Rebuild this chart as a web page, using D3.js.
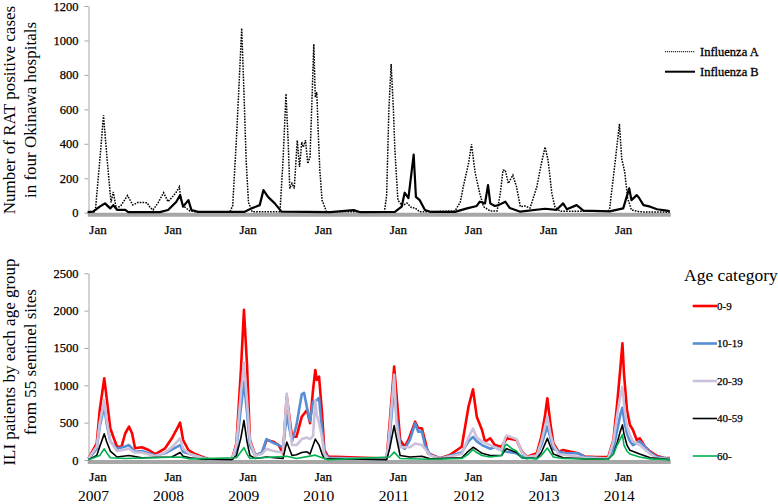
<!DOCTYPE html>
<html>
<head>
<meta charset="utf-8">
<script src="https://cdn.jsdelivr.net/npm/d3@7"></script>
<style>
  body { margin: 0; background: #fff; }
  svg { display: block; }
  svg text { font-family: "Liberation Serif", serif; fill: #000; }
</style>
</head>
<body>
<svg id="chart" width="778" height="504"></svg>
<script>
// [decimal year, cases]
var fluA = [[2006.87,3],[2006.97,5],[2007.03,300],[2007.08,565],[2007.13,300],[2007.18,60],[2007.21,120],[2007.25,25],[2007.31,40],[2007.40,100],[2007.47,45],[2007.54,60],[2007.66,58],[2007.70,30],[2007.74,16],[2007.81,60],[2007.88,116],[2007.94,64],[2008.01,98],[2008.05,120],[2008.09,150],[2008.11,80],[2008.14,40],[2008.23,10],[2008.37,3],[2008.76,3],[2008.80,40],[2008.85,430],[2008.88,700],[2008.92,1071],[2008.95,700],[2008.98,300],[2009.01,60],[2009.06,5],[2009.43,5],[2009.47,300],[2009.51,690],[2009.54,400],[2009.56,141],[2009.59,170],[2009.62,141],[2009.66,420],[2009.69,266],[2009.72,410],[2009.74,381],[2009.77,420],[2009.80,285],[2009.83,324],[2009.86,709],[2009.88,979],[2009.90,670],[2009.92,699],[2009.94,459],[2009.96,250],[2009.99,73],[2010.05,5],[2010.82,5],[2010.85,100],[2010.88,600],[2010.91,863],[2010.94,600],[2010.96,362],[2011.00,73],[2011.06,40],[2011.12,56],[2011.18,30],[2011.23,27],[2011.29,5],[2011.76,10],[2011.83,60],[2011.87,150],[2011.94,285],[2011.98,397],[2012.03,228],[2012.09,112],[2012.14,35],[2012.23,10],[2012.32,10],[2012.36,100],[2012.40,247],[2012.43,247],[2012.47,170],[2012.53,218],[2012.58,150],[2012.63,35],[2012.69,39],[2012.76,27],[2012.85,150],[2012.91,285],[2012.96,381],[2013.00,304],[2013.05,112],[2013.09,35],[2013.16,8],[2013.80,8],[2013.82,25],[2013.89,285],[2013.95,516],[2013.98,314],[2014.02,237],[2014.06,83],[2014.11,16],[2014.22,5],[2014.62,3]];
var fluB = [[2006.87,3],[2006.94,6],[2007.03,35],[2007.10,54],[2007.17,25],[2007.21,44],[2007.26,16],[2007.37,16],[2007.41,3],[2007.83,3],[2007.94,16],[2008.05,64],[2008.10,102],[2008.14,35],[2008.21,73],[2008.25,16],[2008.34,5],[2008.96,5],[2009.05,25],[2009.16,44],[2009.21,131],[2009.27,92],[2009.36,54],[2009.45,6],[2010.10,3],[2010.41,15],[2010.50,3],[2010.96,5],[2011.05,35],[2011.09,116],[2011.14,85],[2011.21,337],[2011.24,92],[2011.29,73],[2011.36,16],[2011.43,5],[2011.76,5],[2011.92,25],[2012.05,39],[2012.09,64],[2012.16,54],[2012.20,160],[2012.23,54],[2012.29,39],[2012.34,44],[2012.43,64],[2012.49,27],[2012.63,6],[2012.96,23],[2013.11,16],[2013.20,54],[2013.25,20],[2013.38,44],[2013.47,12],[2013.82,8],[2014.00,25],[2014.08,141],[2014.11,73],[2014.18,102],[2014.21,87],[2014.27,44],[2014.36,35],[2014.45,20],[2014.58,12],[2014.62,8]];

// [decimal year, ILI patients] per age group
var age0_9 = [[2006.88,23],[2006.99,224],[2007.03,670],[2007.09,1095],[2007.12,848],[2007.17,425],[2007.21,312],[2007.26,178],[2007.32,178],[2007.37,358],[2007.42,446],[2007.46,358],[2007.50,157],[2007.59,170],[2007.68,134],[2007.77,80],[2007.90,157],[2007.99,291],[2008.05,402],[2008.10,500],[2008.14,268],[2008.21,134],[2008.30,80],[2008.39,45],[2008.48,9],[2008.79,9],[2008.85,224],[2008.91,1206],[2008.95,2010],[2008.99,1296],[2009.03,268],[2009.10,67],[2009.19,90],[2009.25,268],[2009.34,245],[2009.41,201],[2009.47,90],[2009.52,850],[2009.59,312],[2009.65,312],[2009.72,580],[2009.79,670],[2009.83,492],[2009.87,938],[2009.90,1206],[2009.92,1072],[2009.95,1116],[2009.99,626],[2010.02,134],[2010.07,45],[2010.85,20],[2010.89,492],[2010.95,1250],[2010.98,894],[2011.03,268],[2011.09,178],[2011.14,268],[2011.23,513],[2011.27,425],[2011.32,425],[2011.36,268],[2011.40,90],[2011.56,23],[2011.69,67],[2011.85,178],[2011.94,714],[2012.00,947],[2012.05,580],[2012.12,402],[2012.16,245],[2012.23,291],[2012.29,201],[2012.38,178],[2012.45,291],[2012.58,268],[2012.65,112],[2012.72,45],[2012.85,90],[2012.91,312],[2012.96,603],[2012.99,827],[2013.03,492],[2013.07,224],[2013.14,112],[2013.20,134],[2013.29,112],[2013.40,90],[2013.49,45],[2013.65,40],[2013.80,40],[2013.87,268],[2013.92,760],[2013.96,1206],[2013.99,1564],[2014.01,1162],[2014.05,670],[2014.09,469],[2014.13,402],[2014.18,268],[2014.22,291],[2014.29,178],[2014.36,112],[2014.45,54],[2014.54,31],[2014.62,27]];
var age10_19 = [[2006.88,10],[2006.99,150],[2007.03,450],[2007.09,720],[2007.12,500],[2007.17,250],[2007.26,150],[2007.37,180],[2007.42,200],[2007.50,110],[2007.59,120],[2007.77,60],[2007.90,90],[2007.99,140],[2008.10,200],[2008.14,110],[2008.23,80],[2008.39,30],[2008.48,5],[2008.79,5],[2008.85,150],[2008.91,700],[2008.95,1050],[2008.99,650],[2009.03,200],[2009.10,60],[2009.19,100],[2009.25,280],[2009.34,230],[2009.41,200],[2009.47,170],[2009.52,600],[2009.59,250],[2009.65,470],[2009.72,880],[2009.75,900],[2009.80,650],[2009.83,520],[2009.87,780],[2009.92,800],[2009.95,830],[2009.99,400],[2010.02,100],[2010.07,30],[2010.85,10],[2010.89,300],[2010.95,1000],[2010.98,600],[2011.03,200],[2011.09,150],[2011.16,270],[2011.23,490],[2011.27,380],[2011.32,380],[2011.36,200],[2011.43,70],[2011.56,20],[2011.85,100],[2011.94,250],[2012.00,310],[2012.05,250],[2012.12,200],[2012.23,150],[2012.29,170],[2012.38,130],[2012.45,110],[2012.58,90],[2012.65,50],[2012.72,20],[2012.85,60],[2012.91,200],[2012.99,450],[2013.03,300],[2013.07,150],[2013.20,90],[2013.40,90],[2013.49,40],[2013.80,20],[2013.87,150],[2013.92,400],[2013.96,600],[2013.99,700],[2014.01,550],[2014.05,350],[2014.09,250],[2014.13,200],[2014.22,250],[2014.29,180],[2014.36,100],[2014.45,40],[2014.62,15]];
var age20_39 = [[2006.88,20],[2006.99,180],[2007.03,500],[2007.09,800],[2007.12,550],[2007.17,250],[2007.26,120],[2007.37,140],[2007.42,150],[2007.50,100],[2007.59,100],[2007.77,50],[2007.90,100],[2007.99,170],[2008.10,290],[2008.14,150],[2008.23,80],[2008.39,30],[2008.48,5],[2008.79,5],[2008.85,200],[2008.91,900],[2008.95,1300],[2008.99,800],[2009.03,250],[2009.10,60],[2009.19,80],[2009.25,150],[2009.34,120],[2009.47,100],[2009.52,890],[2009.59,200],[2009.65,200],[2009.72,280],[2009.79,300],[2009.83,280],[2009.87,320],[2009.90,800],[2009.92,600],[2009.95,500],[2009.99,300],[2010.02,80],[2010.07,20],[2010.85,10],[2010.89,400],[2010.95,1140],[2010.98,500],[2011.03,170],[2011.16,170],[2011.23,220],[2011.32,200],[2011.36,150],[2011.43,60],[2011.56,20],[2011.85,80],[2011.94,300],[2012.00,420],[2012.05,300],[2012.12,250],[2012.23,200],[2012.38,130],[2012.43,300],[2012.45,330],[2012.58,280],[2012.65,100],[2012.72,40],[2012.85,60],[2012.91,250],[2012.99,580],[2013.03,350],[2013.07,200],[2013.14,80],[2013.29,60],[2013.49,30],[2013.80,20],[2013.87,250],[2013.92,600],[2013.96,850],[2013.99,980],[2014.01,750],[2014.05,450],[2014.09,330],[2014.13,250],[2014.22,200],[2014.36,80],[2014.45,25],[2014.62,10]];
var age40_59 = [[2006.88,5],[2006.99,60],[2007.03,180],[2007.09,350],[2007.12,250],[2007.17,120],[2007.26,40],[2007.42,60],[2007.59,30],[2007.99,40],[2008.10,100],[2008.14,50],[2008.23,30],[2008.39,10],[2008.79,3],[2008.85,60],[2008.91,300],[2008.95,530],[2008.99,250],[2009.03,60],[2009.10,20],[2009.25,40],[2009.47,20],[2009.52,240],[2009.59,60],[2009.65,70],[2009.72,100],[2009.79,110],[2009.83,80],[2009.90,280],[2009.95,200],[2009.99,80],[2010.02,20],[2010.85,5],[2010.89,150],[2010.95,460],[2010.98,300],[2011.03,60],[2011.16,40],[2011.32,50],[2011.43,15],[2011.85,30],[2011.94,120],[2012.00,170],[2012.05,140],[2012.12,90],[2012.23,60],[2012.38,60],[2012.43,140],[2012.45,150],[2012.58,100],[2012.65,30],[2012.85,20],[2012.91,100],[2012.99,290],[2013.03,180],[2013.07,80],[2013.20,30],[2013.49,15],[2013.80,10],[2013.87,80],[2013.92,230],[2013.96,380],[2013.99,470],[2014.01,350],[2014.05,200],[2014.09,130],[2014.22,80],[2014.36,30],[2014.62,5]];
var age60 = [[2006.88,3],[2007.03,60],[2007.09,150],[2007.12,100],[2007.17,30],[2007.37,20],[2008.10,40],[2008.23,15],[2008.85,30],[2008.95,165],[2008.99,80],[2009.03,20],[2009.52,50],[2009.65,20],[2009.90,65],[2009.99,30],[2010.07,5],[2010.89,40],[2010.95,105],[2011.03,20],[2011.43,10],[2011.85,20],[2011.94,80],[2012.00,140],[2012.05,100],[2012.12,60],[2012.23,40],[2012.38,60],[2012.43,200],[2012.45,210],[2012.52,150],[2012.58,120],[2012.65,30],[2012.85,15],[2012.91,60],[2012.99,160],[2013.03,100],[2013.07,40],[2013.20,20],[2013.80,10],[2013.87,80],[2013.92,200],[2013.99,340],[2014.01,200],[2014.05,120],[2014.09,80],[2014.22,40],[2014.36,15],[2014.62,5]];

var fluNames = ["Influenza A", "Influenza B"];
var ageNames = ["0-9", "10-19", "20-39", "40-59", "60-"];
var ageColors = ["#ff0000", "#558ed5", "#ccc1da", "#000000", "#00b050"];
var ageWidths = [2.6, 2.6, 2.6, 1.6, 1.6];
var topTicks = [0, 200, 400, 600, 800, 1000, 1200];
var botTicks = [0, 500, 1000, 1500, 2000, 2500];
var janTicks = [2007, 2008, 2009, 2010, 2011, 2012, 2013, 2014];
var yearLabels = ["2007", "2008", "2009", "2010", "2011", "2012", "2013", "2014"];

var FONT = "Liberation Serif";
var svg = d3.select("#chart");
var x = d3.scaleLinear().domain([2007, 2014]).range([97.5, 623.2]);
var xStart = 2006.87, xEnd = 2014.62;
var yTop = d3.scaleLinear().domain([0, 1200]).range([212.7, 6]);
var yBot = d3.scaleLinear().domain([0, 2500]).range([460, 273.3]);

function yAxis(scale, ticks) {
  var g = svg.append("g").attr("transform", "translate(88.5,0)")
    .call(d3.axisLeft(scale).tickValues(ticks).tickFormat(d3.format("d"))
      .tickSize(4).tickSizeOuter(0).tickPadding(6));
  g.attr("font-family", FONT).attr("font-size", 12.5);
  g.select(".domain").attr("stroke", "#a6a6a6");
  g.selectAll(".tick line").attr("stroke", "#a6a6a6");
  g.selectAll("text").attr("fill", "#000").attr("stroke", "#000").attr("stroke-width", 0.25);
  return g;
}
function xAxis(y0) {
  svg.append("line").attr("x1", x(xStart)).attr("x2", x(xEnd) + 1)
    .attr("y1", y0 + 2).attr("y2", y0 + 2).attr("stroke", "#a6a6a6").attr("stroke-width", 4);
  var g = svg.append("g").attr("transform", "translate(0," + (y0 + 2) + ")")
    .call(d3.axisBottom(x).tickValues(janTicks).tickSize(0).tickPadding(10).tickFormat(function () { return "Jan"; }));
  g.attr("font-family", FONT).attr("font-size", 13);
  g.select(".domain").remove();
  g.selectAll("text").attr("fill", "#000").attr("stroke", "#000").attr("stroke-width", 0.25);
}

yAxis(yTop, topTicks);
yAxis(yBot, botTicks);
xAxis(212.7);
xAxis(460);

var lineTop = d3.line().x(function (d) { return x(d[0]); }).y(function (d) { return yTop(d[1]); });
var lineBot = d3.line().x(function (d) { return x(d[0]); }).y(function (d) { return yBot(d[1]); });

svg.append("path").datum(fluA).attr("d", lineTop).attr("fill", "none")
  .attr("stroke", "#000").attr("stroke-width", 1.5).attr("stroke-dasharray", "1.6,1.2");
svg.append("path").datum(fluB).attr("d", lineTop).attr("fill", "none")
  .attr("stroke", "#000").attr("stroke-width", 2.2).attr("stroke-linejoin", "round");

var ageSeries = [age0_9, age10_19, age20_39, age40_59, age60];
ageSeries.forEach(function (s, i) {
  svg.append("path").datum(s).attr("d", lineBot).attr("fill", "none")
    .attr("stroke", ageColors[i]).attr("stroke-width", ageWidths[i]).attr("stroke-linejoin", "round");
});

// y titles
function yTitle(lines, cy) {
  lines.forEach(function (t, i) {
    svg.append("text").attr("transform", "translate(" + (15 + i * 21) + "," + cy + ") rotate(-90)")
      .attr("text-anchor", "middle").attr("font-family", FONT).attr("font-size", 17).text(t);
  });
}
yTitle(["Number of RAT positive cases", "in four Okinawa hospitals"], 110);
yTitle(["ILI patients by each age group", "from 55 sentinel sites"], 362);

// year labels
svg.selectAll(".yr").data(janTicks).enter().append("text")
  .attr("x", function (d) { return x(d) - 4; }).attr("y", 501)
  .attr("text-anchor", "middle").attr("font-family", FONT).attr("font-size", 15.5)
  .text(function (d, i) { return yearLabels[i]; });

// flu legend
fluNames.forEach(function (n, i) {
  var ly = 51.7 + i * 20;
  svg.append("line").attr("x1", 665).attr("x2", 695).attr("y1", ly).attr("y2", ly)
    .attr("stroke", "#000").attr("stroke-width", i === 0 ? 1 : 2)
    .attr("stroke-dasharray", i === 0 ? "1.2,0.8" : null);
  svg.append("text").attr("x", 700).attr("y", ly).attr("dy", "0.35em")
    .attr("font-family", FONT).attr("font-size", 12.5)
    .attr("stroke", "#000").attr("stroke-width", 0.3).text(n);
});

// age legend
svg.append("text").attr("x", 684).attr("y", 281).attr("font-family", FONT)
  .attr("font-size", 17.5).text("Age category");
ageNames.forEach(function (n, i) {
  var ly = 306 + i * 37.5;
  svg.append("line").attr("x1", 692.7).attr("x2", 717).attr("y1", ly).attr("y2", ly)
    .attr("stroke", ageColors[i]).attr("stroke-width", ageWidths[i]);
  svg.append("text").attr("x", 717).attr("y", ly).attr("dy", "0.35em")
    .attr("font-family", FONT).attr("font-size", 11)
    .attr("stroke", "#000").attr("stroke-width", 0.25).text(n);
});
</script>
</body>
</html>
